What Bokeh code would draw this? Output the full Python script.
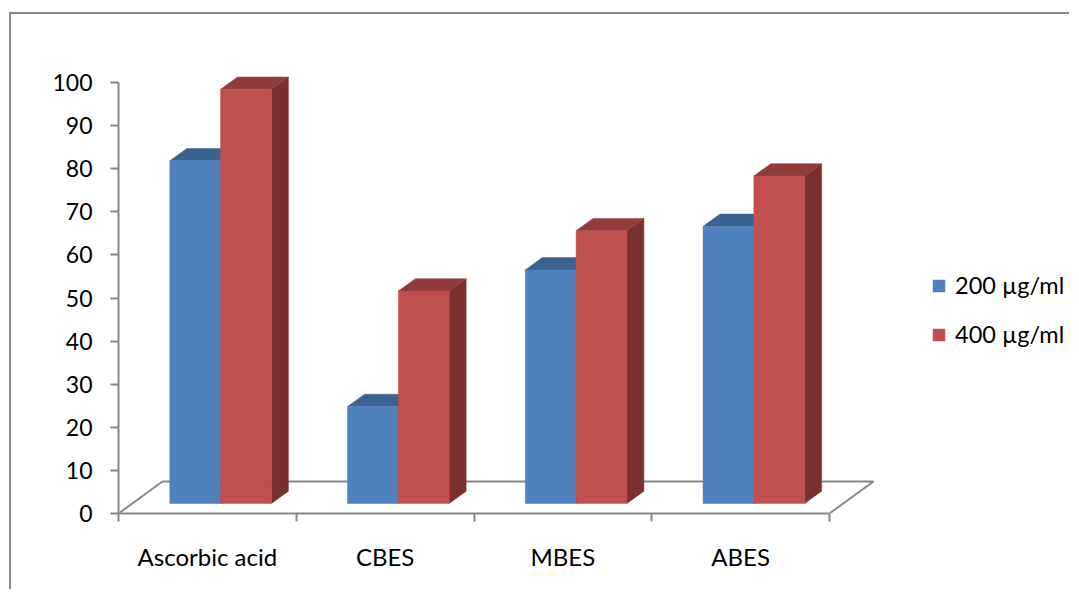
from bokeh.plotting import figure
from bokeh.models import FixedTicker, Legend, LegendItem, Range1d
from bokeh.embed import file_html
from bokeh.resources import INLINE

categories = ["Ascorbic acid", "CBES", "MBES", "ABES"]
series_names = ["200 µg/ml", "400 µg/ml"]
values_200 = [79.5, 22.5, 54.2, 64.3]
values_400 = [96.1, 49.3, 63.3, 76.0]
y_ticks = [0, 10, 20, 30, 40, 50, 60, 70, 80, 90, 100]

PX_X = 177.75   # pixels per category
PX_Y = 4.31     # pixels per value unit
FRAME_W, FRAME_H = 953, 499
BASE = 10 / PX_Y            # bars stand slightly behind the front edge
DX, DY = 17 / PX_X, 12.3 / PX_Y     # bar depth
FX, FY = 44 / PX_X, 32 / PX_Y       # floor depth
X0, BW = 51.3 / PX_X, 50.8 / PX_X   # first bar offset and bar width
GRAY = "#888888"
FONT = "Lato"

p = figure(width=107 + FRAME_W, height=FRAME_H + 78, output_backend="svg", toolbar_location=None,
           x_range=Range1d(0, FRAME_W / PX_X), y_range=Range1d(0, FRAME_H / PX_Y),
           min_border_left=107, min_border_right=0, min_border_top=0, min_border_bottom=78,
           outline_line_color=None, background_fill_color="white", border_fill_color="white")
p.styles = {"margin-left": "9px", "margin-top": "12px",
            "border-left": f"2px solid {GRAY}", "border-top": f"2px solid {GRAY}"}
p.grid.visible = False

# axes
xa, ya = p.xaxis[0], p.yaxis[0]
xa.ticker = FixedTicker(ticks=[i + 0.5 for i in range(len(categories))],
                        minor_ticks=list(range(len(categories) + 1)))
xa.major_label_overrides = {i + 0.5: c for i, c in enumerate(categories)}
xa.bounds = (0, len(categories))
xa.major_tick_in = 0; xa.major_tick_out = 0
xa.minor_tick_in = 0; xa.minor_tick_out = 8
xa.major_label_standoff = 20
ya.ticker = FixedTicker(ticks=y_ticks)
ya.bounds = (y_ticks[0], y_ticks[-1])
ya.major_tick_in = 0; ya.major_tick_out = 8
ya.minor_tick_in = 0; ya.minor_tick_out = 0
ya.major_label_standoff = 18
for a in (xa, ya):
    a.axis_line_color = GRAY; a.axis_line_width = 2
    a.major_tick_line_color = GRAY; a.major_tick_line_width = 2
    a.minor_tick_line_color = GRAY; a.minor_tick_line_width = 2
    a.major_label_text_font = FONT
    a.major_label_text_color = "black"
xa.major_label_text_font_size = "24px"
ya.major_label_text_font_size = "23px"

# floor
n = len(categories)
p.line([0, FX, n + FX, n], [0, FY, FY, 0], line_color=GRAY, line_width=2)

# bars
def bars(vals, offset, front, top, side):
    l = [i + X0 + offset for i in range(n)]
    r = [x + BW for x in l]
    t = [v + BASE for v in vals]
    b = [BASE] * n
    p.patches([[x, x + DX, x + DX, x] for x in r],
              [[B, B + DY, T + DY, T] for B, T in zip(b, t)], fill_color=side, line_color=side, line_width=0.5)
    p.patches([[a, a + DX, c + DX, c] for a, c in zip(l, r)],
              [[T, T + DY, T + DY, T] for T in t], fill_color=top, line_color=top, line_width=0.5)
    return p.quad(left=l, right=r, top=t, bottom=b, fill_color=front, line_color=front, line_width=0.5)

r200 = bars(values_200, 0, "#4F81BD", "#3B618E", "#2F4D71")
r400 = bars(values_400, BW, "#C0504D", "#8F3C3A", "#7A302E")

legend = Legend(items=[LegendItem(label=series_names[0], renderers=[r200]),
                       LegendItem(label=series_names[1], renderers=[r400])],
                location=(813, 165), orientation="vertical",
                glyph_width=15, glyph_height=15, label_standoff=9, spacing=21,
                padding=0, margin=0, border_line_color=None, background_fill_alpha=0,
                label_text_font=FONT, label_text_font_size="23.5px", label_text_color="black",
                label_height=20)
p.add_layout(legend, "center")

open("out.html", "w").write(file_html(p, INLINE))
